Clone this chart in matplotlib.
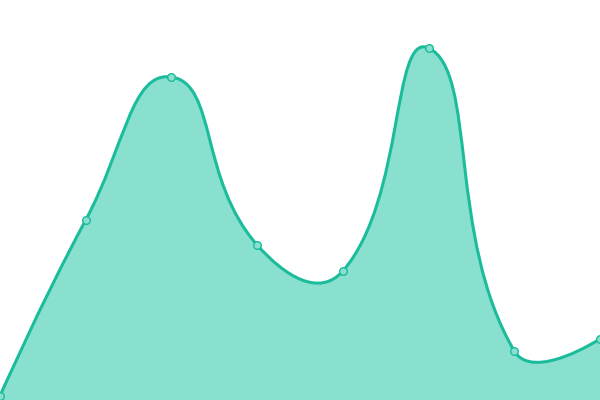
import numpy as np
import matplotlib
matplotlib.use("Agg")
import matplotlib.pyplot as plt
from matplotlib.path import Path
from matplotlib.patches import PathPatch

# values (y axis 0..400, hidden axes)
categories = ["A", "B", "C", "D", "E", "F", "G", "H"]
values = [4, 180, 323, 155, 129, 352, 49, 61]

line_color = "#1abc9c"
fill_color = "#8ae0cf"
smooth = 0.5

fig = plt.figure(figsize=(6, 4), dpi=100)
ax = fig.add_axes([0, 0, 1, 1])
ax.set_xlim(0, len(categories) - 1)
ax.set_ylim(0, 400)
ax.axis("off")

# smooth bezier like echarts (control points computed in pixel space)
sx = 600 / (len(categories) - 1)
pts = np.array([[i * sx, v] for i, v in enumerate(values)], dtype=float)
n = len(pts)
verts = [pts[0]]
codes = [Path.MOVETO]
cp_next = pts[0].copy()
for i in range(1, n):
    p = pts[i]
    if i < n - 1:
        prev, nxt = pts[i - 1], pts[i + 1]
        v = nxt - prev
        l0 = np.hypot(*(p - prev))
        l1 = np.hypot(*(nxt - p))
        r = l1 / (l0 + l1)
        cp_in = p - v * smooth * (1 - r)
        cp_out = p + v * smooth * r
    else:
        cp_in = p.copy()
        cp_out = p.copy()
    verts += [cp_next, cp_in, p]
    codes += [Path.CURVE4] * 3
    cp_next = cp_out

verts = np.array(verts)
verts[:, 0] /= sx

line_path = Path(verts, codes)
area_verts = np.vstack([verts, [[n - 1, 0], [0, 0], verts[0]]])
area_codes = codes + [Path.LINETO, Path.LINETO, Path.CLOSEPOLY]
area_path = Path(area_verts, area_codes)

ax.add_patch(PathPatch(area_path, facecolor=fill_color, edgecolor="none"))
ax.add_patch(PathPatch(line_path, facecolor="none", edgecolor=line_color, lw=2.2))
ax.plot(range(n), values, "o", ms=5.5, mfc=fill_color, mec=line_color, mew=1)

fig.savefig("out.png", dpi=100)
